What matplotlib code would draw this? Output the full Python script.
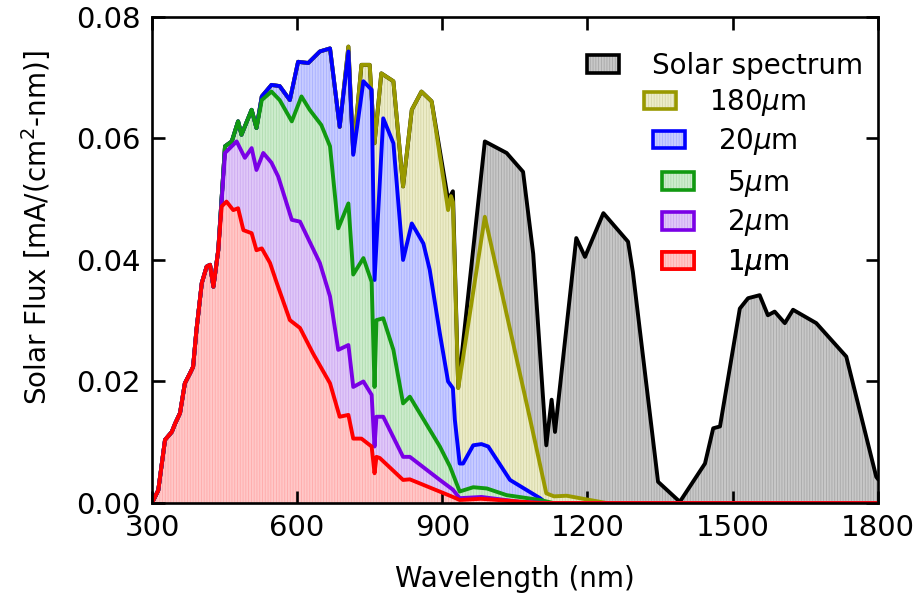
import numpy as np
import matplotlib.pyplot as plt
from matplotlib.patches import Patch

# shared UV part (every thickness absorbs it all)
uv_wl = [300, 313, 327, 341, 348, 358, 368, 379, 385, 392, 403, 413, 420, 427, 437]
uv_flux = [0.0, 0.0021, 0.0104, 0.0117, 0.0131, 0.0148, 0.0197, 0.0214, 0.0224,
           0.0285, 0.0362, 0.0389, 0.0392, 0.0356, 0.0416]

# 1 um
wl_1 = [444, 454, 468, 478, 489, 506, 516, 527, 544, 558, 585, 606, 633, 668,
        688, 706, 716, 733, 754, 760, 764, 771, 819, 833, 922, 936, 980, 1050, 1100, 1800]
flux_1 = [0.0488, 0.0496, 0.0482, 0.0485, 0.0449, 0.0444, 0.0416, 0.0419, 0.0395,
          0.0362, 0.0301, 0.0288, 0.0246, 0.0197, 0.0142, 0.0145, 0.0106, 0.0106,
          0.0093, 0.0049, 0.0076, 0.0074, 0.0038, 0.0039, 0.0010, 0.0005, 0.0007,
          0.0003, 0.0, 0.0]

# 2 um
wl_2 = [451, 475, 492, 506, 516, 530, 547, 561, 589, 606, 647, 668, 685, 706,
        716, 737, 754, 760, 764, 778, 819, 833, 895, 922, 936, 981, 1060, 1120, 1800]
flux_2 = [0.0576, 0.0595, 0.0568, 0.0584, 0.0548, 0.0576, 0.0560, 0.0537, 0.0466,
          0.0463, 0.0395, 0.0340, 0.0252, 0.0260, 0.0191, 0.0200, 0.0178, 0.0093,
          0.0142, 0.0142, 0.0076, 0.0076, 0.0038, 0.0022, 0.0008, 0.0010, 0.0002,
          0.0, 0.0]

# 5 um
wl_5a = [451, 465, 478, 485, 506, 516]
flux_5a = [0.0587, 0.0595, 0.0628, 0.0606, 0.0647, 0.0617]
wl_5 = [527, 547, 564, 589, 609, 626, 650, 668, 685, 706, 716, 737, 754, 760,
        764, 778, 799, 819, 833, 895, 916, 936, 964, 992, 1033, 1102, 1130, 1800]
flux_5 = [0.0663, 0.0677, 0.0663, 0.0628, 0.0669, 0.0647, 0.0622, 0.0587, 0.0452,
          0.0493, 0.0376, 0.0403, 0.0364, 0.0191, 0.0301, 0.0304, 0.0252, 0.0164,
          0.0175, 0.0093, 0.0060, 0.0019, 0.0026, 0.0024, 0.0013, 0.0005, 0.0, 0.0]

# 20 um
wl_20a = [527, 547, 564, 585, 602, 623, 647, 668, 688]
flux_20a = [0.0669, 0.0688, 0.0686, 0.0663, 0.0726, 0.0724, 0.0743, 0.0748, 0.0619]
wl_20 = [706, 716, 737, 754, 760, 778, 799, 819, 837, 861, 874, 895, 912, 922,
         926, 936, 943, 964, 981, 995, 1040, 1102, 1115, 1800]
flux_20 = [0.0743, 0.0573, 0.0694, 0.0680, 0.0367, 0.0633, 0.0592, 0.0400, 0.0460,
           0.0427, 0.0384, 0.0279, 0.0200, 0.0189, 0.0137, 0.0065, 0.0065, 0.0095,
           0.0097, 0.0093, 0.0038, 0.0008, 0.0, 0.0]

# 180 um
wl_180 = [706, 716, 733, 750, 760, 774, 799, 819, 837, 857, 878, 912, 918, 922,
          933, 940, 988, 1081, 1115, 1131, 1157, 1205, 1240, 1800]
flux_180 = [0.0751, 0.0576, 0.0721, 0.0721, 0.0592, 0.0707, 0.0694, 0.0521, 0.0647,
            0.0677, 0.0661, 0.0482, 0.0505, 0.0495, 0.0189, 0.0224, 0.0471, 0.0140,
            0.0016, 0.0011, 0.0012, 0.0005, 0.0, 0.0]

# solar spectrum beyond 900 nm
wl_sun = [912, 922, 933, 988, 1033, 1067, 1088, 1115, 1126, 1133, 1177, 1195, 1233,
          1284, 1294, 1346, 1391, 1443, 1460, 1474, 1515, 1532, 1556, 1573, 1587,
          1608, 1625, 1673, 1735, 1797, 1800]
flux_sun = [0.0499, 0.0513, 0.0190, 0.0595, 0.0576, 0.0545, 0.0410, 0.0095, 0.0170,
            0.0117, 0.0436, 0.0405, 0.0477, 0.0430, 0.0380, 0.0035, 0.0002, 0.0065,
            0.0123, 0.0126, 0.0320, 0.0337, 0.0342, 0.0309, 0.0315, 0.0296, 0.0318,
            0.0296, 0.0241, 0.0043, 0.0040]

labels = ['Solar spectrum', '180$\\mu$m', '20$\\mu$m', '5$\\mu$m', '2$\\mu$m', '1$\\mu$m']
line_colors = ['black', '#999900', '#0000ff', '#119911', '#7a00e6', '#ff0000']
fill_colors = ['#c8c8c8', '#ececc8', '#c8ccff', '#cdeccd', '#e0c8f8', '#ffc8c8']
hatch_colors = ['#a8a8a8', '#d6d6a8', '#a8b0ff', '#b0dcb0', '#ccaaf0', '#ffaaaa']

# build each curve (thicker films follow thinner ones where they overlap)
x1 = uv_wl + wl_1
y1 = uv_flux + flux_1
x2 = uv_wl + wl_2
y2 = uv_flux + flux_2
x5 = uv_wl + wl_5a + wl_5
y5 = uv_flux + flux_5a + flux_5
x20 = uv_wl + wl_5a + wl_20a + wl_20
y20 = uv_flux + flux_5a + flux_20a + flux_20
x180 = uv_wl + wl_5a + wl_20a + wl_180
y180 = uv_flux + flux_5a + flux_20a + flux_180
xs = [w for w in x180 if w < 912] + wl_sun
ys = [f for w, f in zip(x180, y180) if w < 912] + flux_sun

curves = [(xs, ys), (x180, y180), (x20, y20), (x5, y5), (x2, y2), (x1, y1)]

plt.rcParams['font.family'] = 'DejaVu Sans'
plt.rcParams['hatch.linewidth'] = 0.6

fig = plt.figure(figsize=(9.21, 6.01), dpi=100)
ax = fig.add_axes([0.165, 0.163, 0.788, 0.809])

for (x, y), lc, fc, hc in zip(curves, line_colors, fill_colors, hatch_colors):
    ax.fill_between(x, y, 0, facecolor=fc, edgecolor=hc, hatch='||||||', linewidth=0)
    ax.plot(x, y, color=lc, lw=2.8)

ax.set_xlim(300, 1800)
ax.set_ylim(0, 0.08)
ax.set_xticks([300, 600, 900, 1200, 1500, 1800])
ax.set_yticks([0, 0.02, 0.04, 0.06, 0.08])
ax.set_yticklabels(['0.00', '0.02', '0.04', '0.06', '0.08'])
ax.tick_params(direction='in', length=9, width=1.9, top=True, right=True,
               labelsize=21, pad=8)
for s in ax.spines.values():
    s.set_linewidth(1.9)

ax.set_xlabel('Wavelength (nm)', fontsize=20)
ax.set_ylabel('Solar Flux [mA/(cm$^2$-nm)]', fontsize=20)
ax.xaxis.set_label_coords(0.5, -0.128)
ax.yaxis.set_label_coords(-0.136, 0.566)

# one centred legend row per entry
row_y = [0.899, 0.823, 0.743, 0.658, 0.576, 0.494]
for lab, lc, fc, hc, yy in zip(labels, line_colors, fill_colors, hatch_colors, row_y):
    h = (Patch(facecolor=fc, edgecolor=hc, hatch='||||||', lw=0),
         Patch(fill=False, edgecolor=lc, lw=2.6))
    leg = ax.legend([h], [lab], loc='center', bbox_to_anchor=(0.79, yy),
                    frameon=False, fontsize=20, handlelength=1.15,
                    handleheight=0.6, handletextpad=1.2, borderpad=0,
                    borderaxespad=0)
    ax.add_artist(leg)

plt.savefig('out.png', dpi=100)
